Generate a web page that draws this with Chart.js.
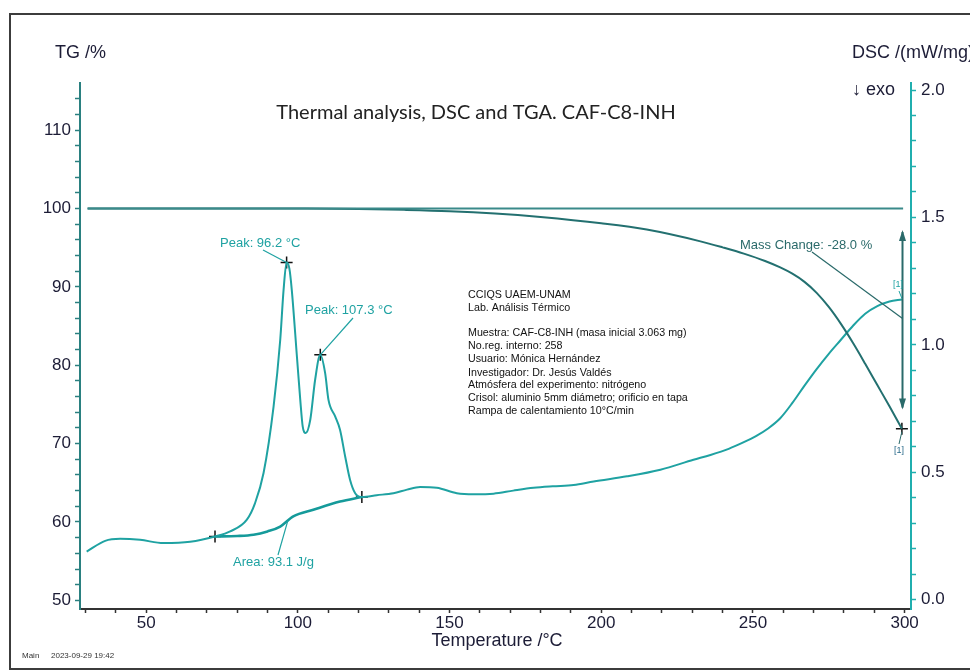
<!DOCTYPE html>
<html><head><meta charset="utf-8">
<script src="https://cdn.jsdelivr.net/npm/chart.js@4/dist/chart.umd.min.js"></script>
<style>html,body{margin:0;padding:0;background:#fff;overflow:hidden}canvas{display:block}</style>
</head><body><canvas id="c" width="970" height="671"></canvas>
<script>
// ---- data ----
const dscTemp = [30.4, 36.5, 41.4, 48, 55.7, 64.5, 72.7, 77.7, 83.2, 85.9, 88.7, 92.0, 94.2, 95.3, 96.3, 97.2, 98.0, 99.7, 100.8, 101.6, 102.6, 104.1, 105.7, 107.4, 109.0, 110.1, 112.3, 113.9, 115.6, 117.2, 118.9, 121.1, 126, 131.5, 136, 140.3, 145.8, 152.4, 158, 164.5, 171, 177.7, 184, 190.9, 197.5, 208.5, 219.5, 230.4, 236, 242, 247, 251, 255, 259, 263, 267, 271, 275, 279, 283, 287, 291, 295, 299.1];
const dscValue = [0.189, 0.231, 0.239, 0.235, 0.222, 0.227, 0.248, 0.268, 0.314, 0.379, 0.497, 0.758, 1.020, 1.216, 1.323, 1.300, 1.216, 0.954, 0.784, 0.680, 0.654, 0.706, 0.863, 0.961, 0.889, 0.784, 0.719, 0.667, 0.562, 0.471, 0.418, 0.403, 0.410, 0.418, 0.432, 0.442, 0.439, 0.418, 0.414, 0.416, 0.428, 0.439, 0.445, 0.450, 0.464, 0.484, 0.510, 0.549, 0.568, 0.592, 0.618, 0.642, 0.672, 0.712, 0.772, 0.840, 0.905, 0.965, 1.020, 1.075, 1.122, 1.152, 1.170, 1.178];
const baseTemp = [72.7, 80, 85.4, 90, 94.2, 98.5, 105.1, 113.9, 121.1];
const baseValue = [0.248, 0.250, 0.255, 0.268, 0.287, 0.327, 0.353, 0.385, 0.403];
const tgTemp = [30.7, 60, 100, 120, 135, 150, 165, 180, 200, 215, 232.7, 240, 247, 254, 259, 263, 267, 271, 275, 279, 283, 287, 291, 295, 299.1];
const tgValue = [100, 100, 99.98, 99.93, 99.82, 99.65, 99.35, 98.9, 98.1, 97.3, 95.8, 95.03, 94.23, 93.29, 92.47, 91.67, 90.63, 89.23, 87.43, 85.27, 82.83, 80.19, 77.47, 74.75, 71.9];
const refTemp = [30.7, 299.5];
const refValue = [100, 100];
const dscMarkT = [72.7, 96.3, 107.4, 121.1];
const dscMarkV = [0.248, 1.323, 0.961, 0.403];
const tgMarkT = [299.1];
const tgMarkV = [71.9];
const xTickLabels = [50, 100, 150, 200, 250, 300];
const tgTickLabels = [50, 60, 70, 80, 90, 100, 110];
const dscTickLabels = ['0.0', '0.5', '1.0', '1.5', '2.0'];
const infoLines = ['CCIQS UAEM-UNAM', 'Lab. Análisis Térmico', '', 'Muestra: CAF-C8-INH (masa inicial 3.063 mg)', 'No.reg. interno: 258', 'Usuario: Mónica Hernández', 'Investigador: Dr. Jesús Valdés', 'Atmósfera del experimento: nitrógeno', 'Crisol: aluminio 5mm diámetro; orificio en tapa', 'Rampa de calentamiento 10°C/min'];

const xTicks = []; for (let t = 30; t <= 300; t += 10) xTicks.push(t);
const tgTicks = []; for (let t = 50; t <= 114; t += 2) tgTicks.push(t);
const dscTicks = []; for (let i = 0; i <= 20; i++) dscTicks.push(i / 10);

const zip = (a, b) => a.map((v, i) => ({x: v, y: b[i]}));
const C_DSC = '#1fa2a2', C_TG = '#237070', C_REF = '#3a8a8a', TXT = '#1c1c36';
const FONT = '"Liberation Sans", Arial, sans-serif';

const deco = {
  id: 'deco',
  afterDraw(chart) {
    const ctx = chart.ctx, x = chart.scales.x, y = chart.scales.y, y2 = chart.scales.y2;
    const X = t => x.getPixelForValue(t), YL = v => y.getPixelForValue(v), YR = v => y2.getPixelForValue(v);
    ctx.save();
    // frame (right side runs off the page)
    ctx.strokeStyle = '#3c3c3c'; ctx.lineWidth = 2;
    ctx.beginPath(); ctx.moveTo(972, 14); ctx.lineTo(10, 14); ctx.lineTo(10, 669); ctx.lineTo(972, 669); ctx.stroke();
    // titles
    ctx.fillStyle = '#222'; ctx.textBaseline = 'middle'; ctx.textAlign = 'center';
    ctx.font = '20px Lato, sans-serif';
    ctx.fillText('Thermal analysis, DSC and TGA. CAF-C8-INH', 476, 113);
    ctx.fillStyle = TXT; ctx.font = '18px ' + FONT;
    ctx.fillText('Temperature /°C', 497, 641);
    ctx.textAlign = 'left';
    ctx.fillText('TG /%', 55, 53);
    ctx.fillText('DSC /(mW/mg)', 852, 53);
    ctx.fillText('↓ exo', 852, 90);
    ctx.font = '8px ' + FONT; ctx.fillStyle = '#333';
    ctx.fillText('Main', 22, 656);
    ctx.fillText('2023-09-29 19:42', 51, 656);
    // info block
    ctx.fillStyle = '#111'; ctx.font = '10.7px ' + FONT;
    const ly = [295, 308, 0, 333, 346, 359.5, 373, 385.5, 398.5, 411];
    infoLines.forEach((s, i) => { if (s) ctx.fillText(s, 468, ly[i]); });
    // peak / area annotations
    ctx.font = '13px ' + FONT; ctx.fillStyle = C_DSC; ctx.strokeStyle = C_DSC; ctx.lineWidth = 1.2;
    const line = (a, b, c, d) => { ctx.beginPath(); ctx.moveTo(a, b); ctx.lineTo(c, d); ctx.stroke(); };
    ctx.fillText('Peak: 96.2 °C', 220, 243);
    line(263, 250, X(dscMarkT[1]), YR(dscMarkV[1]));
    ctx.fillText('Peak: 107.3 °C', 305, 310);
    line(353, 318, X(dscMarkT[2]), YR(dscMarkV[2]));
    ctx.fillText('Area: 93.1 J/g', 233, 562);
    line(278, 555, X(96.7), YR(0.31));
    // mass change
    ctx.fillStyle = '#2a6a6a'; ctx.strokeStyle = '#2a6a6a';
    ctx.fillText('Mass Change: -28.0 %', 740, 245);
    line(812, 252, X(299.2), YL(86.0));
    const ax = X(299.3), top = YL(97.0), bot = YL(74.6);
    ctx.lineWidth = 2; line(ax, top, ax, bot);
    ctx.beginPath(); ctx.moveTo(ax, top - 2); ctx.lineTo(ax - 3.5, top + 9); ctx.lineTo(ax + 3.5, top + 9); ctx.closePath(); ctx.fill();
    ctx.beginPath(); ctx.moveTo(ax, bot + 2); ctx.lineTo(ax - 3.5, bot - 9); ctx.lineTo(ax + 3.5, bot - 9); ctx.closePath(); ctx.fill();
    // [1] labels
    ctx.font = '9px ' + FONT; ctx.lineWidth = 1;
    ctx.fillStyle = C_DSC; ctx.strokeStyle = C_DSC;
    ctx.textAlign = 'center';
    ctx.fillText('[1]', 898, 285);
    line(899, 291, X(299.1), YR(1.178) - 1);
    ctx.fillStyle = '#2a6a8a'; ctx.strokeStyle = '#2a6a6a';
    ctx.fillText('[1]', 899, 451);
    line(X(tgMarkT[0]), YL(tgMarkV[0]) + 3, 899, 444);
    ctx.restore();
  }
};

new Chart(document.getElementById('c'), {
  type: 'scatter',
  data: {
    datasets: [
      {data: zip(refTemp, refValue), yAxisID: 'y', showLine: true, borderColor: C_REF, borderWidth: 2, pointRadius: 0},
      {data: zip(tgTemp, tgValue), yAxisID: 'y', showLine: true, borderColor: C_TG, borderWidth: 2, pointRadius: 0, cubicInterpolationMode: 'monotone'},
      {data: zip(dscTemp, dscValue), yAxisID: 'y2', showLine: true, borderColor: C_DSC, borderWidth: 2, pointRadius: 0, cubicInterpolationMode: 'monotone'},
      {data: zip(baseTemp, baseValue), yAxisID: 'y2', showLine: true, borderColor: '#159a9a', borderWidth: 2.6, pointRadius: 0, cubicInterpolationMode: 'monotone'},
      {data: zip(dscMarkT, dscMarkV), yAxisID: 'y2', showLine: false, pointStyle: 'cross', pointRadius: 6, borderColor: '#111', borderWidth: 1.5},
      {data: zip(tgMarkT, tgMarkV), yAxisID: 'y', showLine: false, pointStyle: 'cross', pointRadius: 6, borderColor: '#111', borderWidth: 1.5}
    ]
  },
  options: {
    responsive: false, animation: false, devicePixelRatio: 1,
    layout: {padding: {top: 83, left: 0, right: 0, bottom: 0}},
    plugins: {legend: {display: false}, tooltip: {enabled: false}},
    scales: {
      x: {
        type: 'linear', min: 28.2, max: 302.1,
        afterFit: s => { s.height = 62; },
        afterBuildTicks: s => { s.ticks = xTicks.map(v => ({value: v})); },
        grid: {drawOnChartArea: false, drawTicks: true, tickLength: 4, color: '#333', tickWidth: 1.5},
        border: {color: '#333', width: 2},
        ticks: {autoSkip: false, maxRotation: 0, padding: 0, color: TXT, font: {family: FONT, size: 17},
          callback: v => xTickLabels.includes(v) ? String(v) : ''}
      },
      y: {
        type: 'linear', position: 'left', min: 48.9, max: 116.0,
        afterFit: s => { s.width = 80; },
        afterBuildTicks: s => { s.ticks = tgTicks.map(v => ({value: v})); },
        grid: {drawOnChartArea: false, drawTicks: true, tickLength: 5, color: '#2a8080', tickWidth: 1.5},
        border: {color: '#2a8080', width: 2},
        ticks: {autoSkip: false, padding: 4, color: TXT, font: {family: FONT, size: 17},
          callback: v => tgTickLabels.includes(v) ? String(v) : ''}
      },
      y2: {
        type: 'linear', position: 'right', min: -0.0365, max: 2.0275,
        afterFit: s => { s.width = 59; },
        afterBuildTicks: s => { s.ticks = dscTicks.map(v => ({value: v})); },
        grid: {drawOnChartArea: false, drawTicks: true, tickLength: 5, color: '#20aeae', tickWidth: 1.5},
        border: {color: '#20aeae', width: 2},
        ticks: {autoSkip: false, padding: 5, color: TXT, font: {family: FONT, size: 17},
          callback: v => dscTickLabels.includes(v.toFixed(1)) && Math.abs(v * 2 - Math.round(v * 2)) < 1e-6 ? v.toFixed(1) : ''}
      }
    }
  },
  plugins: [deco]
});
</script>
</body></html>
